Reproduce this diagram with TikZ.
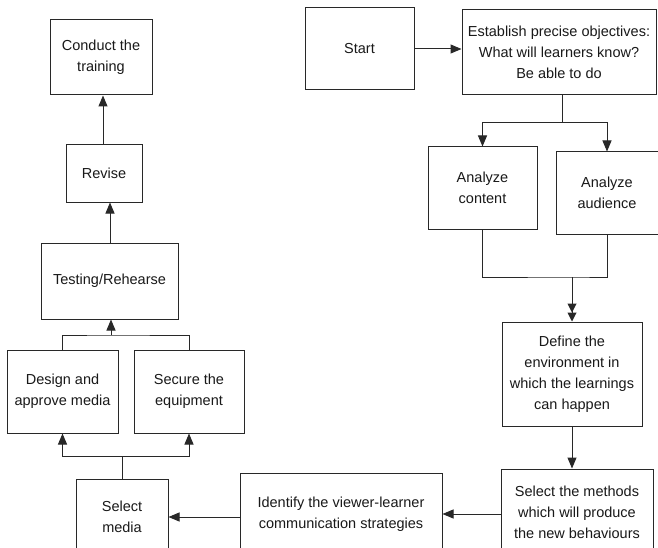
\documentclass[tikz,border=0pt]{standalone}
\usepackage{fontspec}
\setmainfont{Liberation Sans}
\usetikzlibrary{arrows.meta}
\definecolor{cLine}{RGB}{40, 40, 40}
\definecolor{cText}{RGB}{25, 25, 25}
\tikzset{
  B/.style    = {draw=cLine, line width=1pt, align=center, text=cText,
                 font=\fontsize{14.5}{21}\selectfont, inner sep=2pt},
  A/.style    = {-{Triangle[length=11pt,width=9pt]}, draw=cLine, line width=1pt},
  AA/.style   = {-{Triangle[length=9pt,width=9pt]Triangle[length=9pt,width=9pt]},
                 draw=cLine, line width=1pt},
  L/.style    = {draw=cLine, line width=1pt},
}
\begin{document}
\begin{tikzpicture}[x=1pt, y=-1pt]
\clip (0,0) rectangle (658,548);
\fill[white] (0,0) rectangle (658,548);

%% ─── Right column: planning ──────────────────────────────────────
\node[B, minimum width=109pt, minimum height=82pt] (start) at (359.5,49) {Start};
\node[B, minimum width=194pt, minimum height=85pt] (estab) at (559,52.5)
  {Establish precise objectives:\\What will learners know?\\Be able to do};

\node[B, minimum width=109pt, minimum height=82pt] (cont) at (482.5,188)
  {Analyze\\content};
\node[B, minimum width=102pt, minimum height=82pt] (aud) at (607,193)
  {Analyze\\audience};

\node[B, minimum width=140pt, minimum height=104pt] (env) at (572,374)
  {Define the\\environment in\\which the learnings\\can happen};

%% ─── Bottom row ──────────────────────────────────────────────────
\node[B, minimum width=152pt, minimum height=86pt] (meth) at (577,512)
  {Select the methods\\which will produce\\the new behaviours};
\node[B, minimum width=202pt, minimum height=82pt] (ident) at (341,514)
  {Identify the viewer-learner\\communication strategies};
\node[B, minimum width=92pt, minimum height=76pt] (selm) at (122,517)
  {Select\\media};

%% ─── Left column: production ─────────────────────────────────────
\node[B, minimum width=111pt, minimum height=83pt] (design) at (62.5,391.5)
  {Design and\\approve media};
\node[B, minimum width=110pt, minimum height=83pt] (secure) at (189,391.5)
  {Secure the\\equipment};
\node[B, minimum width=137pt, minimum height=76pt] (test) at (109.5,281)
  {Testing/Rehearse};
\node[B, minimum width=76pt, minimum height=57pt] (revise) at (104,173.5)
  {Revise};
\node[B, minimum width=102pt, minimum height=75pt] (conduct) at (101,57.5)
  {Conduct the\\training};

%% ─── Junctions ───────────────────────────────────────────────────
\coordinate (split) at (562,123);
\coordinate (merge) at (572,277);
\coordinate (botj)  at (122,456);
\coordinate (topj)  at (111,335);

%% ─── Connectors ──────────────────────────────────────────────────
\draw[A] (start.east) -- (start.east -| estab.west);
\draw[L] (estab.south -| split) -- (split);
\draw[A] (split) -| (cont.north);
\draw[A] (split) -| (aud.north);

\draw[L] (cont.south) |- (merge) -| (aud.south);
\draw[AA] (merge) -- (merge |- env.north);

\draw[A] (env.south) -- (env.south |- meth.north);
\draw[A] (meth.west |- ident.east) -- (ident.east);
\draw[A] (ident.west |- selm.east) -- (selm.east);

\draw[L] (selm.north) -- (botj);
\draw[A] (botj) -| (design.south);
\draw[A] (botj) -| (secure.south);

\draw[L] (design.north) |- (topj) -| (secure.north);
\draw[A] (topj) -- (topj |- test.south);

\draw[A] (test.north -| 110,0) -- (revise.south -| 110,0);
\draw[A] (revise.north -| 103,0) -- (conduct.south -| 103,0);

\end{tikzpicture}
\end{document}
